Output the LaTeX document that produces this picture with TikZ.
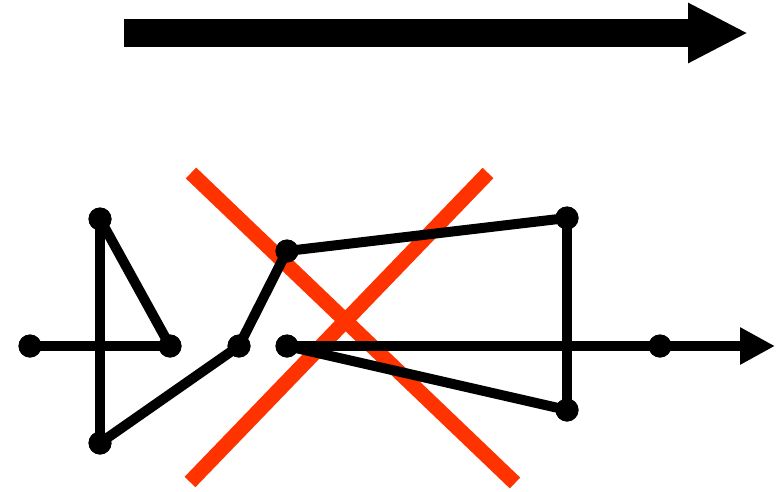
\documentclass[tikz,border=0pt]{standalone}
\usetikzlibrary{arrows.meta}
\definecolor{xred}{HTML}{FF3300}
\begin{document}
\begin{tikzpicture}[x=1pt,y=-1pt,
  dot/.style={circle,fill=black,inner sep=0pt,minimum size=23pt},
  edge/.style={line width=10pt,black},
  cross/.style={line width=15pt,xred},
  bigarrow/.style={line width=28pt,-{Triangle[length=60pt,width=56pt]}},
  axis/.style={line width=10pt,-{Triangle[length=35pt,width=35pt]}}]
\useasboundingbox (0,0) rectangle (781,491);
% top arrow
\coordinate (ts) at (124,33);
\coordinate (te) at (748,33);
\draw[bigarrow] (ts) -- (te);
% red cross
\coordinate (r1a) at (191,173);
\coordinate (r1b) at (515,483);
\coordinate (r2a) at (488,173);
\coordinate (r2b) at (190,482);
\draw[cross] (r1a) -- (r1b);
\draw[cross] (r2a) -- (r2b);
% nodes
\node[dot] (a) at (30,346) {};
\node[dot] (b) at (170,346) {};
\node[dot] (c) at (239,346) {};
\node[dot] (d) at (287,346) {};
\node[dot] (e) at (660,346) {};
\node[dot] (t1) at (100,219) {};
\node[dot] (t2) at (100,443) {};
\node[dot] (p) at (287,251) {};
\node[dot] (q1) at (567,218) {};
\node[dot] (q2) at (567,410) {};
\coordinate (axend) at (775,346);
% connectors
\draw[edge] (a.center) -- (b.center);
\draw[axis] (d.center) -- (axend);
\draw[edge] (t1.center) -- (t2.center);
\draw[edge] (t1.center) -- (b.center);
\draw[edge] (t2.center) -- (c.center);
\draw[edge] (c.center) -- (p.center);
\draw[edge] (p.center) -- (q1.center);
\draw[edge] (q1.center) -- (q2.center);
\draw[edge] (q2.center) -- (d.center);
% redraw dots on top
\foreach \n in {a,b,c,d,e,t1,t2,p,q1,q2}
  \fill (\n) circle (11.5pt);
\end{tikzpicture}
\end{document}
